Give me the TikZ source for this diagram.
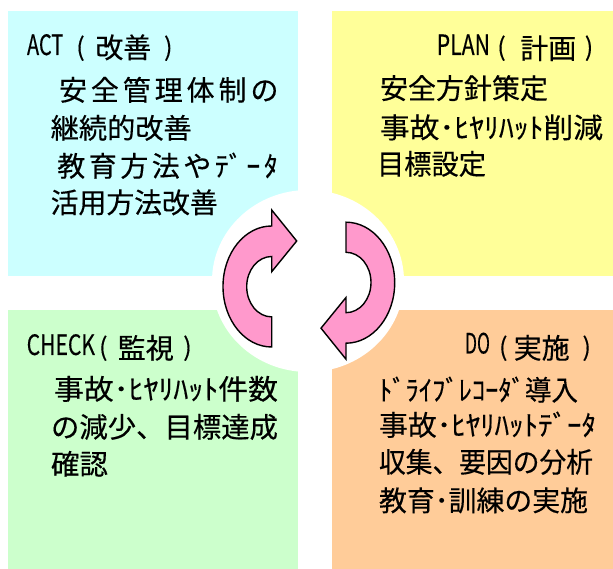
\documentclass[tikz,border=0pt]{standalone}
\usepackage{fontspec}
\usepackage{graphicx}
\setmainfont[FakeBold=0.35]{Noto Sans CJK JP}
\definecolor{actc}{HTML}{CCFFFF}
\definecolor{planc}{HTML}{FFFF99}
\definecolor{checkc}{HTML}{CCFFCC}
\definecolor{doc}{HTML}{FFCC99}
\definecolor{arrc}{HTML}{FF99CC}
\newcommand{\fitw}[2]{\resizebox{#1pt}{\height}{#2}}
\begin{document}
\begin{tikzpicture}[x=1pt,y=1pt,
  txt/.style={inner sep=0pt, outer sep=0pt, anchor=base west, font=\fontsize{28}{28}\selectfont},
  ctxt/.style={inner sep=0pt, outer sep=0pt, anchor=base, font=\fontsize{28}{28}\selectfont},
  par/.style={inner sep=0pt, outer sep=0pt, anchor=base, font=\fontsize{25}{25}\selectfont},
  arrowshape/.style={draw=black, line width=1.4pt, fill=arrc, line join=miter}]
\useasboundingbox (0,0) rectangle (613,569);
\fill[white] (0,0) rectangle (613,569);
% quadrants
\fill[actc] (8,293) rectangle (298,558);
\fill[planc] (332,293) rectangle (613,558);
\fill[checkc] (8,0) rectangle (298,259);
\fill[doc] (332,0) rectangle (613,259);
% white ellipse
\fill[white] (308,288) ellipse [x radius=96, y radius=91];
% arrows
\begin{scope}[shift={(271.7,282.5)}]
\draw[arrowshape] (0,-60.5) arc[start angle=-90, end angle=-270, x radius=48.7, y radius=60.5]
  -- (0,76.5) -- (25,45.5) -- (0,14.8) -- (0,30)
  arc[start angle=90, end angle=270, x radius=25, y radius=30.2] -- cycle;
\end{scope}
\begin{scope}[shift={(346,286.3)}, rotate=180]
\draw[arrowshape] (0,-60.5) arc[start angle=-90, end angle=-270, x radius=48.7, y radius=60.5]
  -- (0,76.5) -- (25,45.5) -- (0,14.8) -- (0,30)
  arc[start angle=90, end angle=270, x radius=25, y radius=30.2] -- cycle;
\end{scope}
% ACT
\node[txt] (actL) at (27,514) {\fitw{36.3}{ACT}};
\node[par] (actP1) at (80.5,513) {(};
\node[ctxt] (actK) at (123.3,511) {改善};
\node[par] (actP2) at (168.3,513) {)};
\node[txt] (act1) at (59,468.5) {\makebox[219.5pt][s]{安\hfill 全\hfill 管\hfill 理\hfill 体\hfill 制\hfill の}};
\node[txt] (act2) at (50.7,430.5) {\fitw{141}{継続的改善}};
\node[txt] (act3) at (57.3,392.5) {\makebox[220.5pt][s]{教\hfill 育\hfill 方\hfill 法\hfill や\hfill ﾃﾞ\hfill ｰ\hfill ﾀ}};
\node[txt] (act4) at (50.7,356) {\fitw{167}{活用方法改善}};
% PLAN
\node[txt] (planL) at (436.7,514) {\fitw{53.3}{PLAN}};
\node[par] (planP1) at (501.5,513) {(};
\node[ctxt] (planK) at (548.3,510.2) {計画};
\node[par] (planP2) at (589,513) {)};
\node[txt] (plan1) at (380,470.2) {\fitw{168}{安全方針策定}};
\node[txt] (plan2) at (380,431) {\fitw{223}{事故･ﾋﾔﾘﾊｯﾄ削減}};
\node[txt] (plan3) at (377,394.5) {\fitw{109}{目標設定}};
% CHECK
\node[txt] (checkL) at (26.7,214) {\fitw{68.3}{CHECK}};
\node[par] (checkP1) at (103.3,213) {(};
\node[ctxt] (checkK) at (145.8,210.5) {監視};
\node[par] (checkP2) at (187.5,213) {)};
\node[txt] (check1) at (54,169.5) {\fitw{224}{事故･ﾋﾔﾘﾊｯﾄ件数}};
\node[txt] (check2) at (51,131.5) {\fitw{227}{の減少、目標達成}};
\node[txt] (check3) at (51,94.5) {\fitw{57}{確認}};
% DO
\node[txt] (doL) at (465,215.5) {\fitw{25}{DO}};
\node[par] (doP1) at (503.3,213) {(};
\node[ctxt] (doK) at (541.7,210.5) {実施};
\node[par] (doP2) at (586.7,213) {)};
\node[txt] (do1) at (379,168.5) {\fitw{199}{ﾄﾞﾗｲﾌﾞﾚｺｰﾀﾞ導入}};
\node[txt] (do2) at (379,133.5) {\fitw{217}{事故･ﾋﾔﾘﾊｯﾄﾃﾞｰﾀ}};
\node[txt] (do3) at (379,96.5) {\fitw{214}{収集、要因の分析}};
\node[txt] (do4) at (379,58) {\fitw{209}{教育･訓練の実施}};
\end{tikzpicture}
\end{document}
